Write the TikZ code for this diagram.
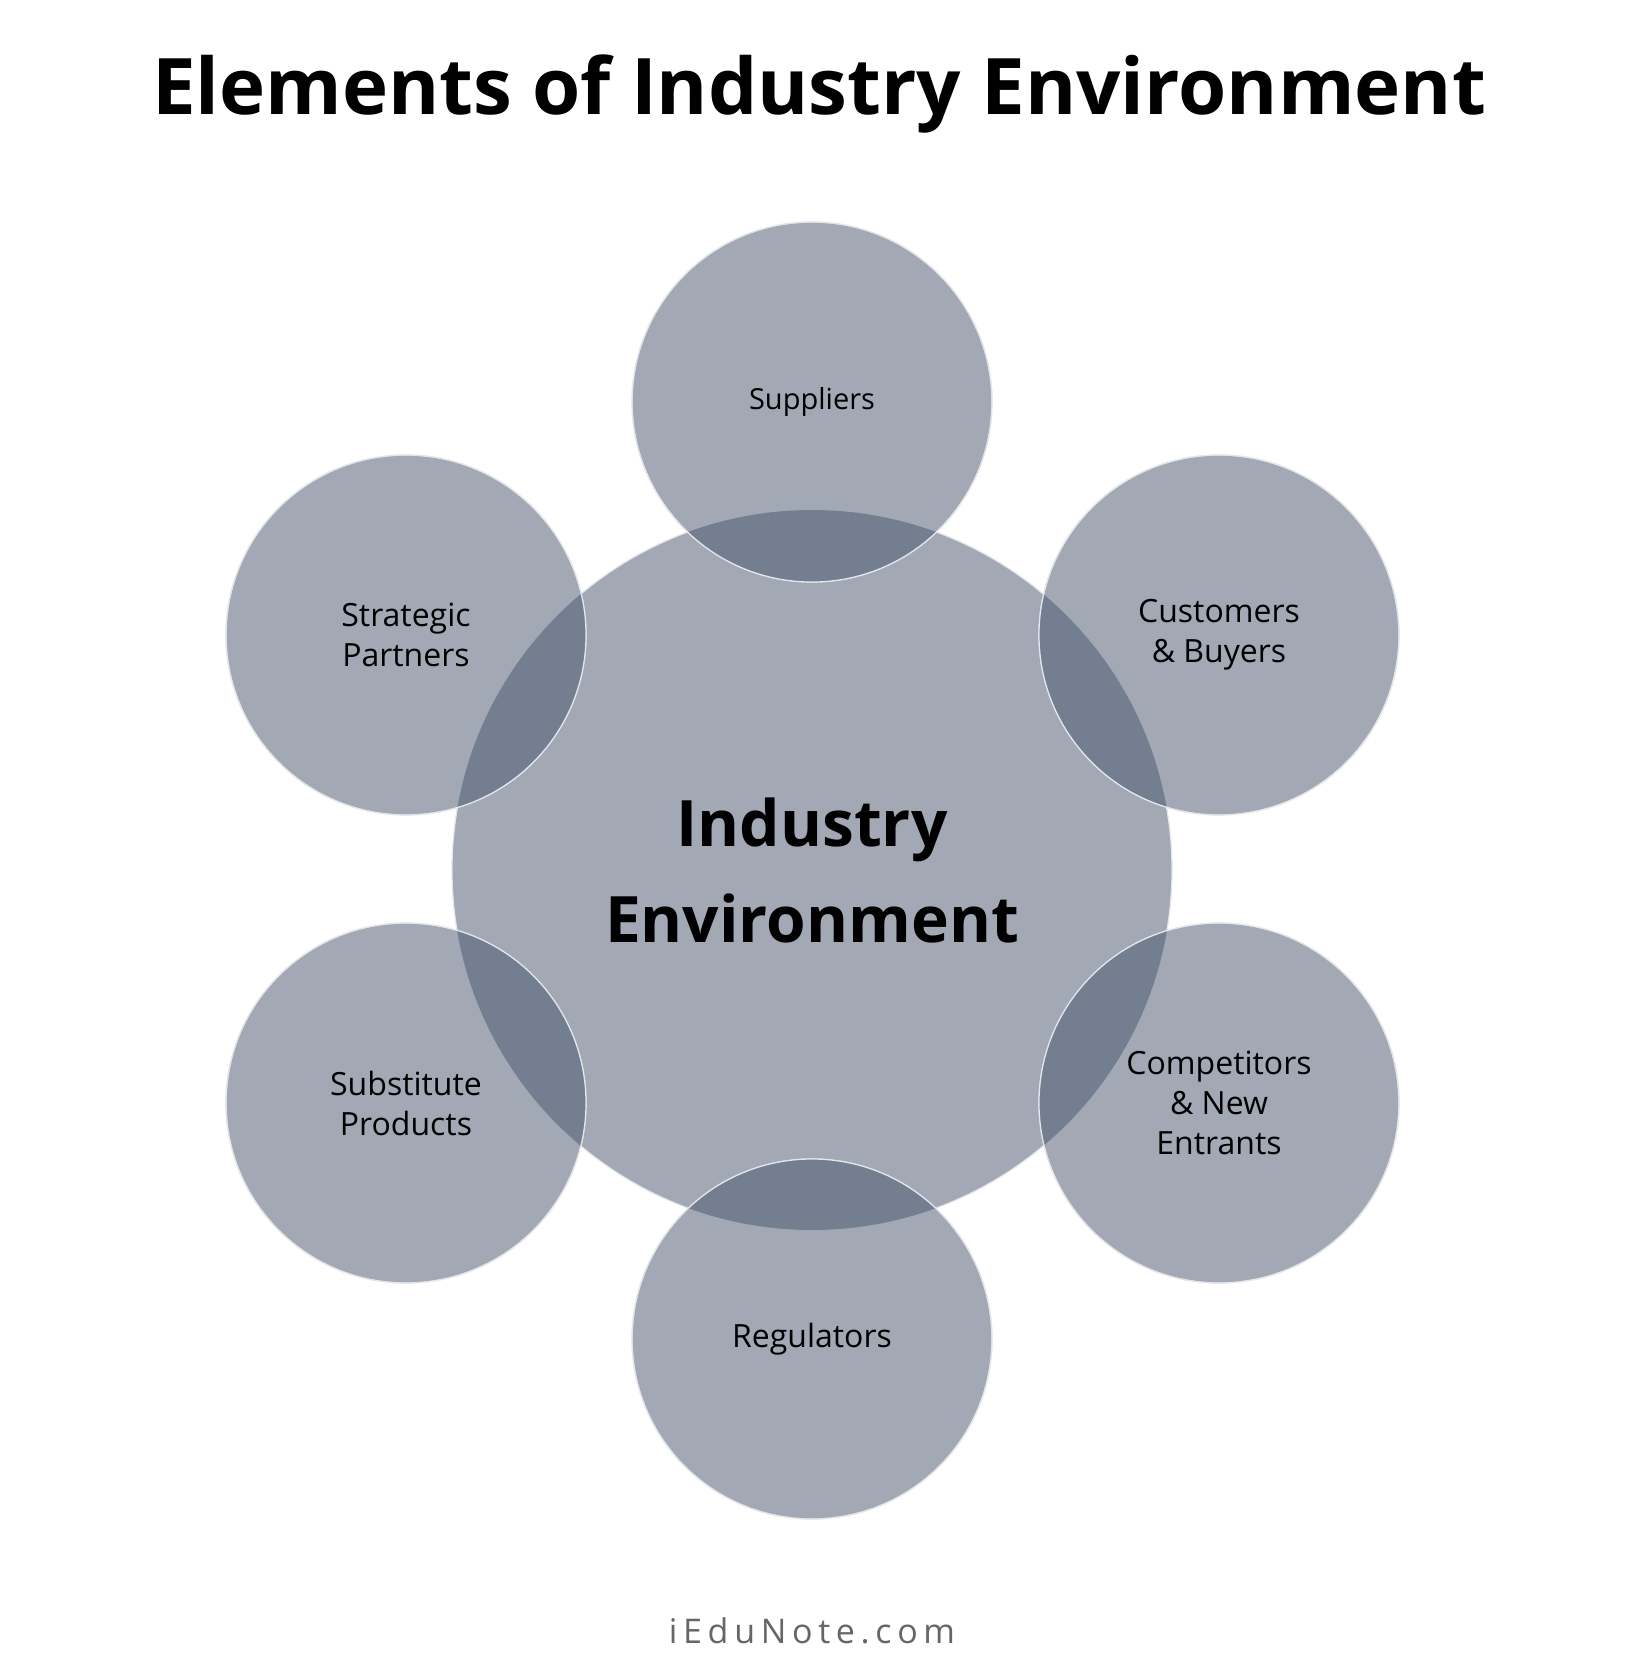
\documentclass[tikz,border=0pt]{standalone}
\usepackage{fontspec}
\setmainfont{Open Sans}
\begin{document}
\begin{tikzpicture}[x=1pt,y=-1pt]
\definecolor{base}{HTML}{A2A9B4}
\definecolor{over}{HTML}{737F90}
\definecolor{edge}{HTML}{E4E6EA}
\tikzset{circ/.style={circle,fill=base,draw=edge,line width=1.2pt,minimum size=#1,inner sep=0pt},
 lab/.style={font=\fontsize{32}{40}\selectfont,align=center}}
\useasboundingbox (0,0) rectangle (1639,1676);
\fill[white] (0,0) rectangle (1639,1676);
\node[font=\bfseries\fontsize{78}{90}\selectfont] (title) at (819,94) {Elements of Industry Environment};
\node[circ=720pt] (center) at (812,870) {};
\foreach \n/\x/\y in {sup/812/402,cus/1219/635,com/1219/1103,reg/812/1339,subs/406/1103,str/406/635}{
  \node[circ=360pt] (\n) at (\x,\y) {};
  \begin{scope}
    \clip (\x,\y) circle (180);
    \fill[over] (812,870) circle (360);
  \end{scope}
  \draw[edge,line width=1.2pt] (\x,\y) circle (180);
}
\node[font=\bfseries\fontsize{64}{96}\selectfont,align=center] at (812,870) {Industry\\Environment};
\node[lab,font=\fontsize{29}{40}\selectfont] at (sup) {Suppliers};
\node[lab] at (cus) {Customers\\\& Buyers};
\node[lab] at (com) {Competitors\\\& New\\Entrants};
\node[lab] at (reg) {Regulators};
\node[lab] at (subs) {Substitute\\Products};
\node[lab] at (str) {Strategic\\Partners};
\node[font=\fontsize{34}{40}\selectfont,text=black!60] (foot) at (812,1631) {i\,E\,d\,u\,N\,o\,t\,e\,.\,c\,o\,m};
\end{tikzpicture}
\end{document}
